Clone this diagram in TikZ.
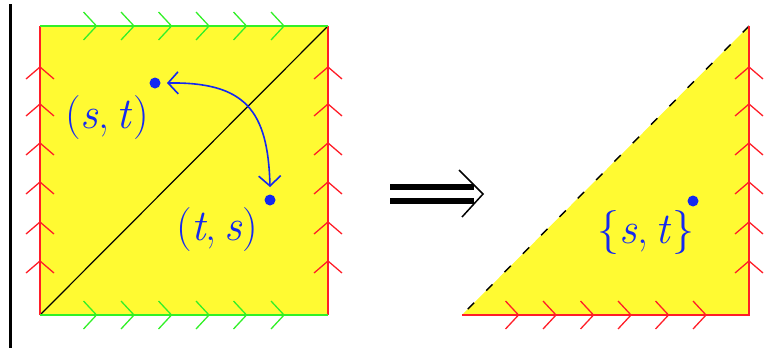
\documentclass[tikz,border=0pt]{standalone}
\usepackage{fontspec}
\usetikzlibrary{arrows.meta,calc}
\definecolor{fillyel}{RGB}{255,250,50}
\definecolor{edgered}{RGB}{255,30,40}
\definecolor{edgegreen}{RGB}{50,240,40}
\definecolor{labblue}{RGB}{20,40,240}
\tikzset{
  edgeR/.style={draw=edgered,line width=2.2pt},
  edgeG/.style={draw=edgegreen,line width=2.2pt},
  chevR/.style={draw=edgered,line width=1.3pt},
  chevG/.style={draw=edgegreen,line width=1.3pt},
  lab/.style={text=labblue,inner sep=0pt,font=\fontsize{44}{50}\selectfont},
  bdot/.style={circle,fill=labblue,inner sep=0pt,minimum width=10pt,minimum height=11pt},
  biarrow/.style={draw=labblue,line width=1.6pt,{Straight Barb[length=10pt,width=22pt]}-{Straight Barb[length=10pt,width=22pt]}},
}
\begin{document}
\begin{tikzpicture}[x=1pt,y=-1pt]
\useasboundingbox (0,0) rectangle (768,348);
% left vertical rule
\draw[line width=3pt] (10.5,4) -- (10.5,348);
% square
\fill[fillyel] (40,26) rectangle (328,315);
\draw[line width=1.2pt,black] (40,315) -- (328,26);
\draw[edgeR] (40,26) -- (40,315);
\draw[edgeR] (328,26) -- (328,315);
\draw[edgeG] (40,26) -- (328,26);
\draw[edgeG] (40,315) -- (328,315);
\foreach \y in {67,104,143,182,222,261}{
  \draw[chevR] (40,\y) ++(-14,12) -- ++(14,-12) -- ++(14,12);
  \draw[chevR] (328,\y) ++(-14,12) -- ++(14,-12) -- ++(14,12);
}
\foreach \k in {0,...,5}{
  \pgfmathsetmacro{\xx}{40+56.5+37.5*\k}
  \draw[chevG] (\xx,26) ++(-13,-14) -- ++(13,14) -- ++(-13,14);
  \draw[chevG] (\xx,315) ++(-13,-14) -- ++(13,14) -- ++(-13,14);
}
% labels and dots in square
\node[lab] (lst) at (107,118) {(\textit{s},\,\textit{t})};
\node[lab] (lts) at (217,230) {(\textit{t},\,\textit{s})};
\node[bdot] (st) at (155,83) {};
\node[bdot] (ts) at (270,200) {};
\draw[biarrow] ($(st)+(12,0)$) .. controls (245,82) and (268,110) .. ($(ts)+(0,-13)$);
% double arrow
\draw[line width=6pt] (390,187) -- (474,187);
\draw[line width=6pt] (390,201) -- (474,201);
\draw[line width=1.5pt] (459,170) -- (483,194) -- (462,217);
% triangle
\fill[fillyel] (462,315) -- (749,26) -- (749,315) -- cycle;
\draw[line width=1.4pt,black,dash pattern=on 9pt off 17pt] (749,26) -- (462,315);
\draw[edgeR] (749,26) -- (749,315) -- (462,315);
\foreach \y in {67,104,143,182,222,261}{
  \draw[chevR] (749,\y) ++(-14,12) -- ++(14,-12) -- ++(14,12);
}
\foreach \k in {0,...,5}{
  \pgfmathsetmacro{\xx}{462+56.5+37.5*\k}
  \draw[chevR] (\xx,315) ++(-13,-14) -- ++(13,14) -- ++(-13,14);
}
\node[lab] (lset) at (646,232) {\{\textit{s},\,\textit{t}\}};
\node[bdot] (sdot) at (693,201) {};
\end{tikzpicture}
\end{document}
